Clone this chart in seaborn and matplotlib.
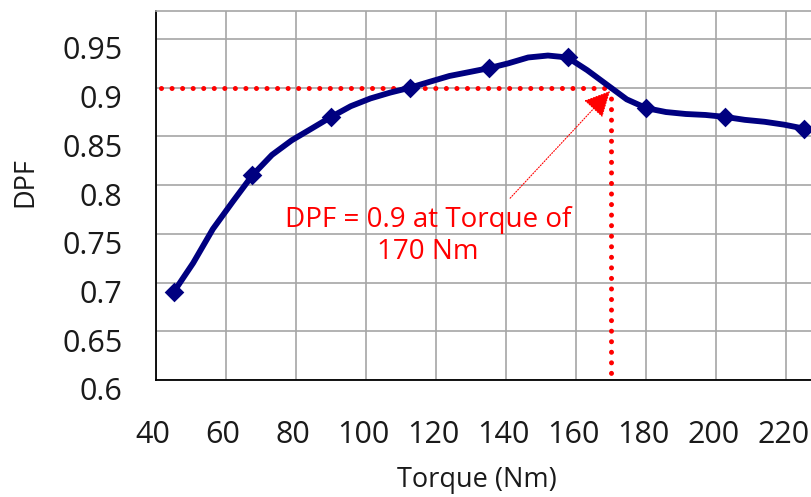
import matplotlib
matplotlib.use("Agg")
import matplotlib.pyplot as plt
import matplotlib.transforms as mtransforms
import seaborn as sns
import pandas as pd

# ---- data ----
curve_torque = [45, 50.6, 56.25, 61.9, 67.5, 73.1, 78.75, 84.4, 90, 95.6, 101.25, 106.9,
                112.5, 118.1, 123.75, 129.4, 135, 140.6, 146.25, 151.9, 157.5, 163.1,
                168.75, 174.4, 180, 185.6, 191.25, 196.9, 202.5, 208.1, 213.75, 219.4, 225]
curve_dpf = [0.69, 0.72, 0.755, 0.783, 0.81, 0.831, 0.846, 0.858, 0.870, 0.881, 0.889, 0.895,
             0.90, 0.906, 0.912, 0.916, 0.920, 0.925, 0.931, 0.933, 0.931, 0.918,
             0.903, 0.888, 0.879, 0.875, 0.873, 0.872, 0.870, 0.867, 0.865, 0.862, 0.858]
marker_torque = [45, 67.5, 90, 112.5, 135, 157.5, 180, 202.5, 225]
marker_dpf = [0.69, 0.81, 0.87, 0.90, 0.92, 0.931, 0.879, 0.870, 0.858]
target_dpf = 0.9
target_torque = 170
x_ticks = [40, 60, 80, 100, 120, 140, 160, 180, 200, 220]
y_ticks = [0.6, 0.65, 0.7, 0.75, 0.8, 0.85, 0.9, 0.95]
y_tick_labels = ["0.6", "0.65", "0.7", "0.75", "0.8", "0.85", "0.9", "0.95"]
annotation_text = "DPF = 0.9 at Torque of\n170 Nm"

curve_df = pd.DataFrame({"Torque": curve_torque, "DPF": curve_dpf})
marker_df = pd.DataFrame({"Torque": marker_torque, "DPF": marker_dpf})

sns.set_style("white")
plt.rcParams["font.family"] = ["Open Sans", "DejaVu Sans"]

W, H = 811, 497
fig = plt.figure(figsize=(W / 100, H / 100), dpi=100)
ax = fig.add_axes([156 / W, 1 - 380 / H, (W - 156) / W, (380 - 11) / H])

navy = "#000080"
red = "#ff0000"
grid_c = "#a6a6a6"
text_c = "#1a1a1a"

ax.set_xlim(40, 227)
ax.set_ylim(0.6, 0.9787)
ax.set_xticks(x_ticks)
ax.set_yticks(y_ticks)
ax.set_yticklabels(y_tick_labels)
ax.grid(True, color=grid_c, lw=1.2)
ax.set_axisbelow(True)

# red dotted guide lines
dot_style = dict(color=red, lw=3.6, linestyle=(0, (0.01, 2.1)), dash_capstyle="round", zorder=2)
ax.plot([41.5, target_torque], [target_dpf, target_dpf], **dot_style)
ax.plot([target_torque, target_torque], [target_dpf, 0.6], **dot_style)

sns.lineplot(data=curve_df, x="Torque", y="DPF", sort=False, color=navy, lw=4.2,
             ax=ax, zorder=3, estimator=None)
sns.scatterplot(data=marker_df, x="Torque", y="DPF", marker="D", s=100, color=navy,
                edgecolor=navy, linewidth=0, ax=ax, zorder=4)

# annotation
ax.text(117.7, 0.748, annotation_text, color=red, fontsize=20, ha="center", va="center",
        multialignment="center", linespacing=1.18, zorder=5)
ax.annotate("", xy=(169.6, 0.8965), xytext=(141.1, 0.7866),
            arrowprops=dict(arrowstyle="-|>,head_length=0.9,head_width=0.45", color=red,
                            lw=0.8, linestyle=(0, (1, 1.5)), shrinkA=0, shrinkB=0,
                            mutation_scale=18),
            zorder=5)

# spines
for s in ["left", "bottom"]:
    ax.spines[s].set_color("black")
    ax.spines[s].set_linewidth(1.3)
ax.spines["top"].set_color(grid_c)
ax.spines["top"].set_linewidth(1.2)
ax.spines["right"].set_visible(False)

ax.tick_params(axis="x", direction="in", length=8, width=1.2, color="black",
               labelsize=22, pad=29, labelcolor=text_c)
ax.tick_params(axis="y", direction="in", length=0, labelsize=22, pad=24,
               labelcolor=text_c)

# shift labels as in the reference
dy = mtransforms.ScaledTranslation(0, -9 / 100, fig.dpi_scale_trans)
for lab in ax.get_yticklabels():
    lab.set_transform(lab.get_transform() + dy)
dx = mtransforms.ScaledTranslation(-3 / 100, 0, fig.dpi_scale_trans)
for lab in ax.get_xticklabels():
    lab.set_transform(lab.get_transform() + dx)

ax.set_xlabel("")
ax.set_ylabel("")
fig.text(477 / W, 1 - 487 / H, "Torque (Nm)", fontsize=19.5, ha="center", va="baseline",
         color=text_c)
fig.text(25 / W, 1 - 182 / H, "DPF", fontsize=19.5, ha="center", va="center",
         rotation=90, color=text_c)

fig.savefig("out.png", dpi=100)
